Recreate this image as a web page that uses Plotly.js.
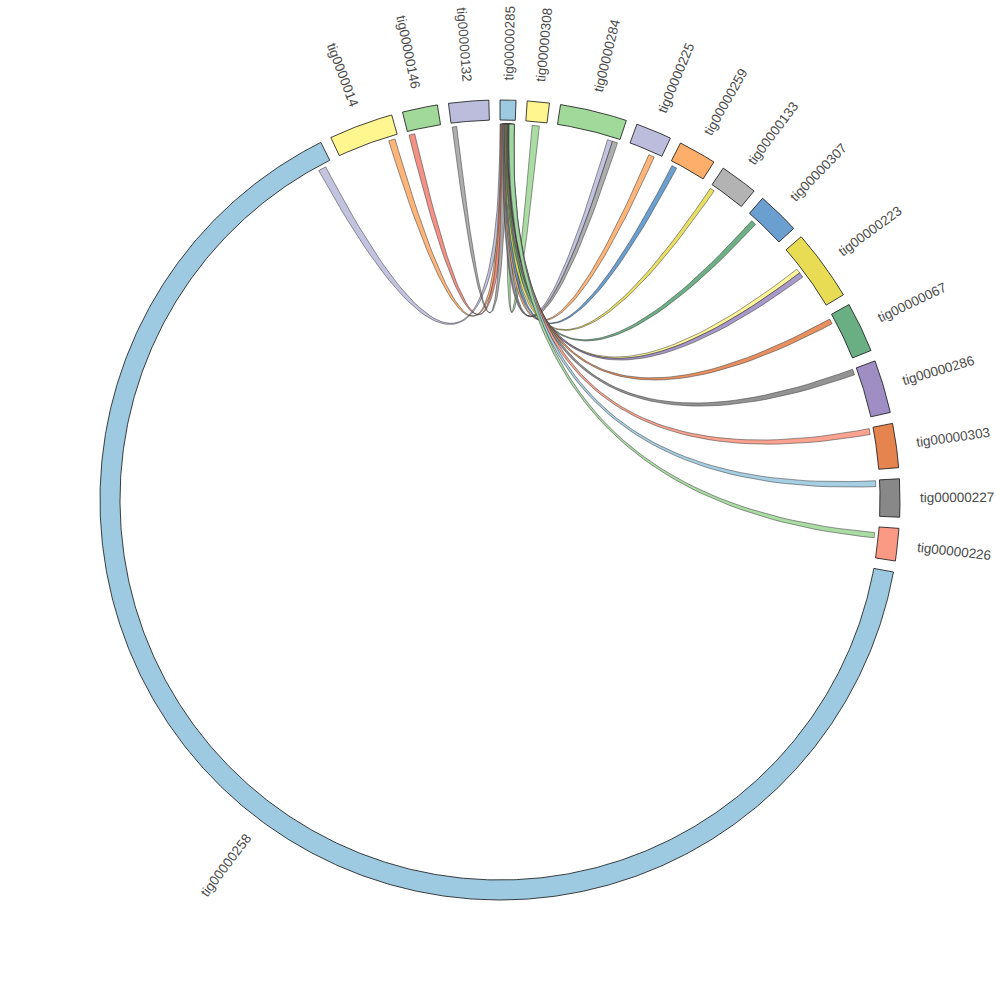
<!DOCTYPE html>
<html><head><meta charset="utf-8">
<script src="https://cdn.plot.ly/plotly-3.0.1.min.js"></script>
<style>html,body{margin:0;padding:0;background:#fff}</style>
</head><body><div id="chart" style="width:1000px;height:1000px"></div>
<script>
// ---- data ----
const contigs = ['tig00000285','tig00000308','tig00000284','tig00000225','tig00000259','tig00000133',
  'tig00000307','tig00000223','tig00000067','tig00000286','tig00000303','tig00000227','tig00000226',
  'tig00000258','tig0000014','tig00000146','tig00000132'];
const lengths = [23, 32, 97, 52, 55, 55, 62, 103, 73, 77, 64, 55, 47, 2328, 93, 51, 58];
const segColors = ['#9ecae1','#fff68f','#a1d99b','#bcbddc','#fdae6b','#b3b3b3','#6b9fcf','#e8dc55',
  '#6aaf83','#9e8ec4','#e6844f','#888888','#fb9a84','#9ecae1','#fff68f','#a1d99b','#bcbddc'];

const linkSource = ['tig00000258','tig0000014','tig00000146','tig00000132','tig00000308','tig00000284',
  'tig00000284','tig00000225','tig00000259','tig00000133','tig00000307','tig00000223','tig00000223',
  'tig00000067','tig00000286','tig00000303','tig00000227','tig00000226'];
const linkSourceStart = [2306, 78, 1, 1, 10, 79, 87, 33, 4, 1, 10, 33, 40, 5, 0, 1, 1, 9];
const linkSourceEnd   = [2318, 88, 10, 8, 21, 87, 95, 42, 12, 8, 18, 40, 48, 13, 9, 10, 10, 17];
const linkTarget = Array(18).fill('tig00000285');
const linkTargetStart = [0, 1, 2, 3, 13, 4, 5, 6, 7, 8, 9, 10, 11, 12, 12, 13, 13, 14];
const linkTargetEnd   = [9, 10, 11, 12, 22, 12, 13, 14, 15, 16, 17, 17, 19, 20, 21, 22, 22, 22];
const linkColors = ['#bcbddc','#fdae6b','#f4877a','#a6a6a6','#a1d99b','#bcbddc','#a6a6a6','#fdae6b',
  '#5b95cc','#e8dc55','#5fa878','#fff68f','#9e8ec4','#e6844f','#888888','#fb9a84','#9ecae1','#a1d99b'];

// ---- layout constants ----
const GAP = 1.6, R_OUT = 400, R_IN = 380, R_CH = 376, LABEL_R = 419;
const n = contigs.length;
const total = lengths.reduce((a,b)=>a+b,0);
const scale = (360 - n*GAP) / total;
const startAng = {};
let acc = 0;
contigs.forEach((c,i)=>{ startAng[c] = acc; acc += lengths[i]*scale + GAP; });
const rad = d => d*Math.PI/180;
const P = (deg, r) => [r*Math.sin(rad(deg)), r*Math.cos(rad(deg))];

function arc(a1, a2, r, xs, ys) {
  const steps = Math.max(4, Math.ceil(Math.abs(a2-a1)/0.4));
  for (let k=0;k<=steps;k++){ const a=a1+(a2-a1)*k/steps; const p=P(a,r); xs.push(p[0]); ys.push(p[1]); }
}
function bez(p0, p2, xs, ys) {
  const N = 60;
  for (let k=0;k<=N;k++){ const t=k/N; const u=1-t;
    xs.push(u*u*p0[0] + t*t*p2[0]); ys.push(u*u*p0[1] + t*t*p2[1]); }
}

const traces = [];
// chords
for (let j=0;j<linkSource.length;j++){
  const s = linkSource[j], t = linkTarget[j];
  const sa0 = startAng[s] + linkSourceStart[j]*scale, sa1 = startAng[s] + linkSourceEnd[j]*scale;
  const ta0 = startAng[t] + linkTargetStart[j]*scale, ta1 = startAng[t] + linkTargetEnd[j]*scale;
  const xs=[], ys=[];
  arc(sa0, sa1, R_CH, xs, ys);
  bez(P(sa1,R_CH), P(ta0,R_CH), xs, ys);
  arc(ta0, ta1, R_CH, xs, ys);
  bez(P(ta1,R_CH), P(sa0,R_CH), xs, ys);
  xs.push(xs[0]); ys.push(ys[0]);
  traces.push({type:'scatter', mode:'lines', x:xs, y:ys, fill:'toself', fillcolor:linkColors[j],
    opacity:0.9, line:{color:'rgba(30,30,30,0.85)', width:0.6}, hoverinfo:'skip', showlegend:false});
}
// segments
const annotations = [];
contigs.forEach((c,i)=>{
  const a1 = startAng[c], a2 = a1 + lengths[i]*scale;
  const xs=[], ys=[];
  arc(a1, a2, R_OUT, xs, ys);
  arc(a2, a1, R_IN, xs, ys);
  xs.push(xs[0]); ys.push(ys[0]);
  traces.push({type:'scatter', mode:'lines', x:xs, y:ys, fill:'toself', fillcolor:segColors[i],
    line:{color:'#111', width:0.8}, hoverinfo:'skip', showlegend:false});
  const mid = (a1+a2)/2;
  const halfLen = c.length * 3.45;
  const p = P(mid, LABEL_R + halfLen);
  const ang = mid < 180 ? mid - 90 : mid - 270;
  annotations.push({x:p[0], y:p[1], xref:'x', yref:'y', text:c, showarrow:false,
    textangle:ang, xanchor:'center', yanchor:'middle',
    font:{family:'Liberation Sans, Arial, sans-serif', size:13.5, color:'#4a4a4a'}});
});

const layout = {
  width:1000, height:1000, margin:{l:0,r:0,t:0,b:0},
  paper_bgcolor:'#fff', plot_bgcolor:'#fff',
  xaxis:{range:[-500,500], visible:false, fixedrange:true},
  yaxis:{range:[-500,500], visible:false, fixedrange:true},
  annotations: annotations, showlegend:false
};
Plotly.newPlot('chart', traces, layout, {staticPlot:true});
</script></body></html>
